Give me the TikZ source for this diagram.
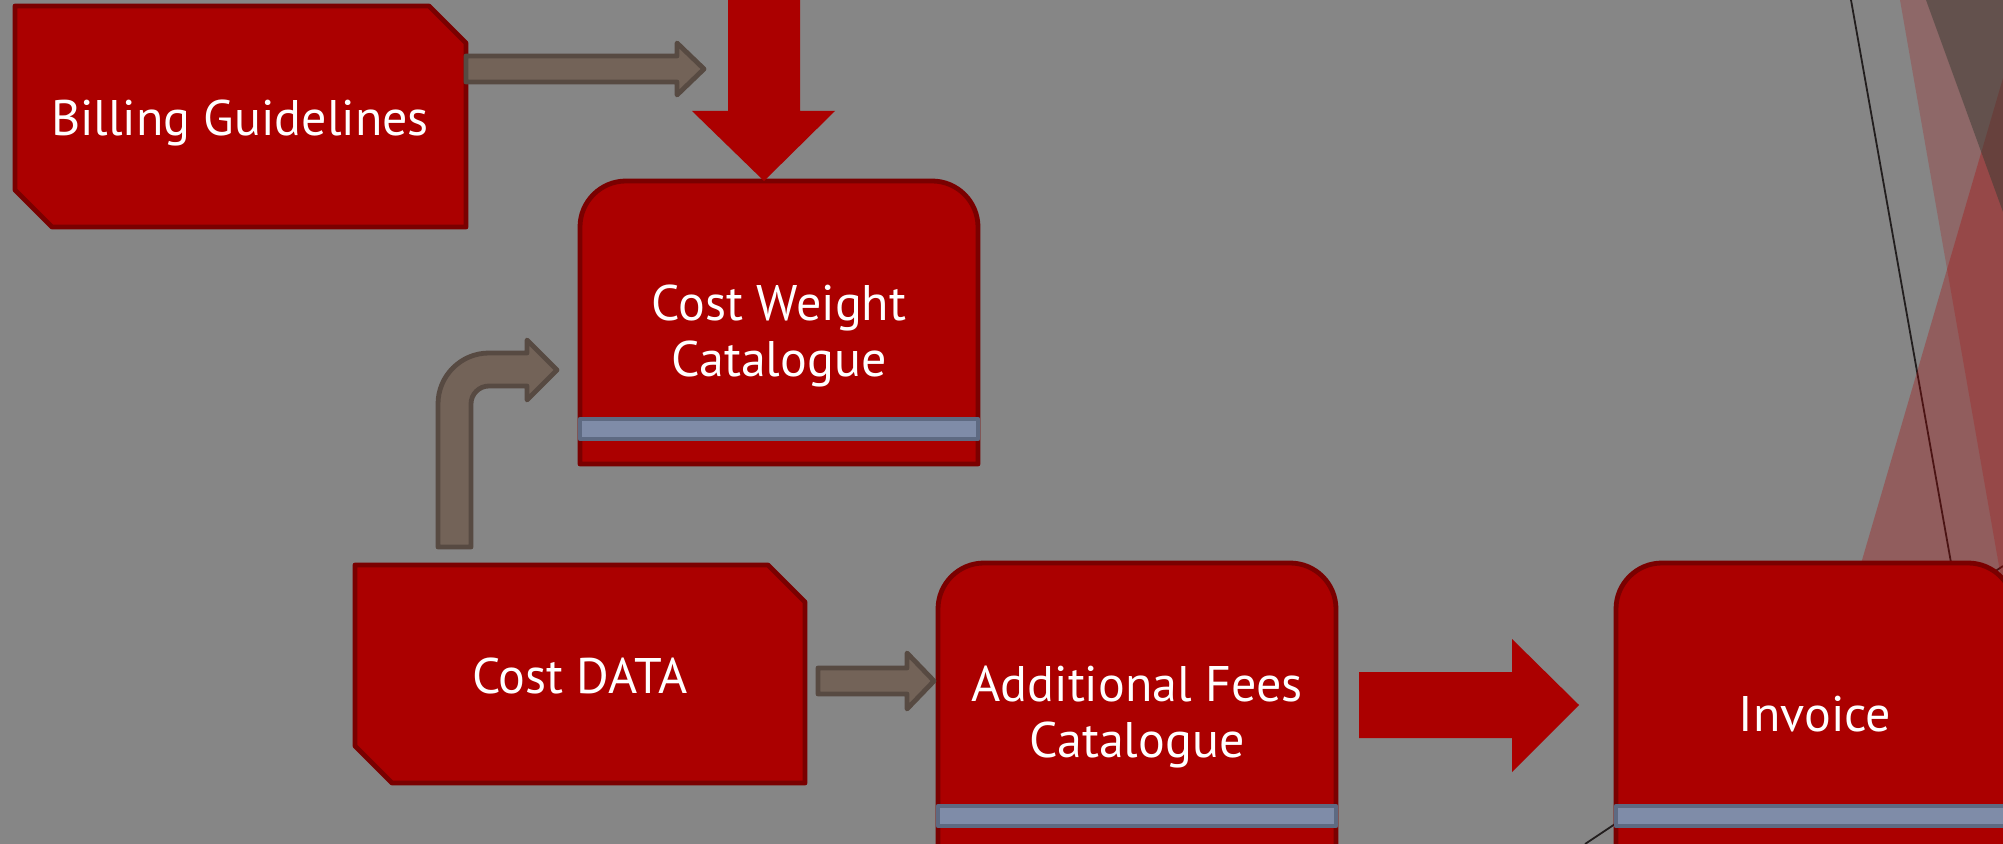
\documentclass[tikz,border=0pt]{standalone}
\usepackage{fontspec}
\setmainfont{PT Sans}
\definecolor{bggray}{RGB}{134,134,134}
\definecolor{boxred}{RGB}{171,0,0}
\definecolor{boxedge}{RGB}{122,0,0}
\definecolor{barfill}{RGB}{127,140,168}
\definecolor{baredge}{RGB}{94,106,130}
\definecolor{pipefill}{RGB}{115,99,88}
\definecolor{pipeedge}{RGB}{87,74,66}
\definecolor{facetdark}{RGB}{58,60,52}
\definecolor{facetline}{RGB}{34,30,30}
\tikzset{
  boxshape/.style={fill=boxred, draw=boxedge, line width=2.4pt, line join=round},
  barshape/.style={fill=barfill, draw=baredge, line width=2.4pt, line join=round},
  pipe/.style={fill=pipefill, draw=pipeedge, line width=2.4pt, line join=round},
  bigarrow/.style={fill=boxred},
  label/.style={text=white, align=center, inner sep=0pt,
    font=\fontsize{25}{28}\selectfont},
  facetline/.style={draw=facetline, line width=0.9pt},
}
\begin{document}
\begin{tikzpicture}[x=0.5pt, y=-0.5pt]
% canvas
\useasboundingbox (0,0) rectangle (2003,844);
\fill[bggray] (0,0) rectangle (2003,844);

% faceted background on the right
\draw[facetline] (1851,0) -- (2001,844);
\draw[facetline] (1585,844) -- (2003,566);
\fill[boxred, opacity=0.22] (1900,0) -- (2003,0) -- (2003,589) -- cycle;
\fill[boxred, opacity=0.30] (2003,78) -- (1779,844) -- (2003,844) -- cycle;
\fill[facetdark, opacity=0.5] (1926,0) -- (2003,0) -- (2003,212) -- cycle;

% ---- boxes ----
% Billing Guidelines (snipped corners)
\draw[boxshape] (15,6) -- (429,6) -- (466,43) -- (466,227) -- (52,227) -- (15,190) -- cycle;
\node[label] (billing) at (240,123) {Billing Guidelines};

% Cost Weight Catalogue (rounded top)
\draw[boxshape] (580,464) -- (580,227) arc[start angle=180, end angle=270, radius=46]
  -- (932,181) arc[start angle=270, end angle=360, radius=46] -- (978,464) -- cycle;
\draw[barshape] (580,419) rectangle (978,439);
\node[label] (costweight) at (779,336) {Cost Weight\\Catalogue};

% Cost DATA (snipped corners)
\draw[boxshape] (355,565) -- (768,565) -- (805,602) -- (805,783) -- (392,783) -- (355,746) -- cycle;
\node[label] (costdata) at (580,676) {Cost DATA};

% Additional Fees Catalogue (rounded top, runs off the bottom)
\draw[boxshape] (938,860) -- (938,609) arc[start angle=180, end angle=270, radius=46]
  -- (1290,563) arc[start angle=270, end angle=360, radius=46] -- (1336,860);
\draw[barshape] (938,806) rectangle (1336,826);
\node[label] (addfees) at (1137,717) {Additional Fees\\Catalogue};

% Invoice (rounded top, runs off the bottom and right)
\draw[boxshape] (1616,860) -- (1616,609) arc[start angle=180, end angle=270, radius=46]
  -- (1968,563) arc[start angle=270, end angle=360, radius=46] -- (2014,860);
\draw[barshape] (1616,806) rectangle (2014,826);
\node[label] (invoice) at (1815,714) {Invoice};

% ---- connectors ----
% Billing Guidelines -> Cost Weight Catalogue
\draw[pipe] (466,56) -- (677,56) -- (677,43) -- (704,69) -- (677,95) -- (677,82) -- (466,82) -- cycle;
% Cost DATA -> Cost Weight Catalogue (bent pipe)
\draw[pipe] (438,547) -- (438,404) arc[start angle=180, end angle=270, radius=51]
  -- (527,353) -- (527,340) -- (557,370) -- (527,400) -- (527,386)
  -- (489,386) arc[start angle=270, end angle=180, radius=18] -- (471,547) -- cycle;
% Cost DATA -> Additional Fees Catalogue
\draw[pipe] (818,668) -- (907,668) -- (907,653) -- (934,681) -- (907,709) -- (907,694) -- (818,694) -- cycle;
% incoming flow into Cost Weight Catalogue
\fill[bigarrow] (728,-5) -- (800,-5) -- (800,111) -- (835,111) -- (764,181) -- (692,111) -- (728,111) -- cycle;
% Additional Fees Catalogue -> Invoice
\fill[bigarrow] (1359,672) -- (1512,672) -- (1512,639) -- (1579,705) -- (1512,772) -- (1512,738) -- (1359,738) -- cycle;
\end{tikzpicture}
\end{document}
